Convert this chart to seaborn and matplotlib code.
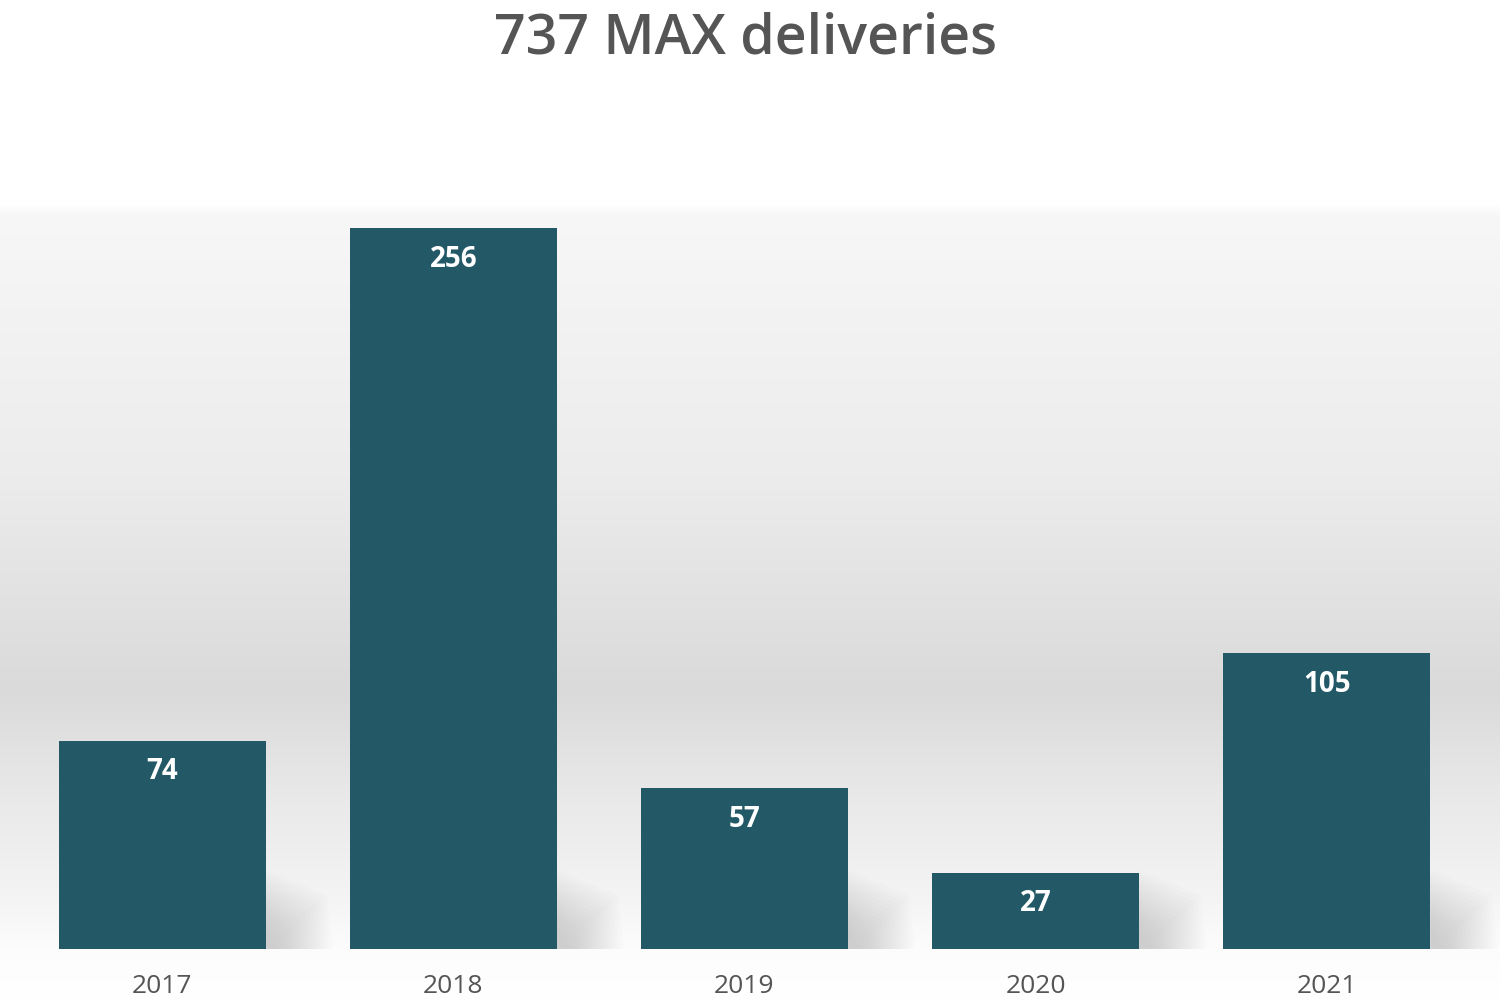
import numpy as np
import pandas as pd
import matplotlib.pyplot as plt
from matplotlib.patches import Polygon
import seaborn as sns

# =========================
# Data
# =========================
years = ["2017", "2018", "2019", "2020", "2021"]
deliveries = [74, 256, 57, 27, 105]

BAR_COLOR = "#235866"
TEXT_GRAY = "#555555"

sns.set_theme(style="white")
plt.rcParams["font.family"] = ["Open Sans", "DejaVu Sans"]

df = pd.DataFrame({"year": years, "deliveries": deliveries})

fig = plt.figure(figsize=(15, 10), dpi=100)
fig.patch.set_facecolor("white")

# soft gray studio-style background behind the bars
bg = fig.add_axes([0, 0, 1, 1], zorder=-5)
rows = np.arange(1000) + 0.5
stops_px = [0, 205, 215, 480, 690, 800, 900, 950, 1000]
stops_val = [1.0, 1.0, 0.968, 0.925, 0.855, 0.915, 0.958, 0.99, 1.0]
profile = np.interp(rows, stops_px, stops_val)
rgb = np.repeat(profile[:, None, None], 3, axis=2)
rgb = np.repeat(rgb, 2, axis=1)
bg.imshow(rgb, aspect="auto", extent=[0, 1, 0, 1], interpolation="nearest")
bg.set_xlim(0, 1)
bg.set_ylim(0, 1)
bg.axis("off")

# =========================
# Bars
# =========================
ax = fig.add_axes([0, 0.051, 1, 0.739])
ax.patch.set_alpha(0)
sns.barplot(data=df, x="year", y="deliveries", color=BAR_COLOR,
            saturation=1, width=0.71, ax=ax, zorder=3,
            edgecolor="none", linewidth=0)

# faint cast shadows to the lower right of each bar
for p in ax.patches:
    x1 = p.get_x() + p.get_width()
    for k in range(16):
        dx = 0.03 + 0.012 * k
        dy = 3 + 1.4 * k
        ax.add_patch(Polygon([(x1, 0), (x1, dy + 4), (x1 + dx, dy * 0.8), (x1 + dx + 0.02, 0)],
                             closed=True, facecolor="#808080", alpha=0.022,
                             edgecolor="none", zorder=2))

# value labels inside bars
for p, v in zip(ax.patches, deliveries):
    ax.text(p.get_x() + p.get_width() / 2, v - 11, str(v), ha="center", va="center",
            color="white", fontsize=20, fontweight="bold", zorder=4)

ax.set_xlim(-0.557, 4.595)
ax.set_ylim(0, 262.4)
ax.set_xlabel("")
ax.set_ylabel("")
ax.set_yticks([])
ax.tick_params(axis="x", length=0, pad=18, labelsize=19, labelcolor=TEXT_GRAY)
sns.despine(ax=ax, left=True, bottom=True)

fig.text(0.497, 0.961, "737 MAX deliveries", ha="center", va="center",
         fontsize=40, fontweight="semibold", color=TEXT_GRAY)

fig.savefig("out.png", dpi=100)
